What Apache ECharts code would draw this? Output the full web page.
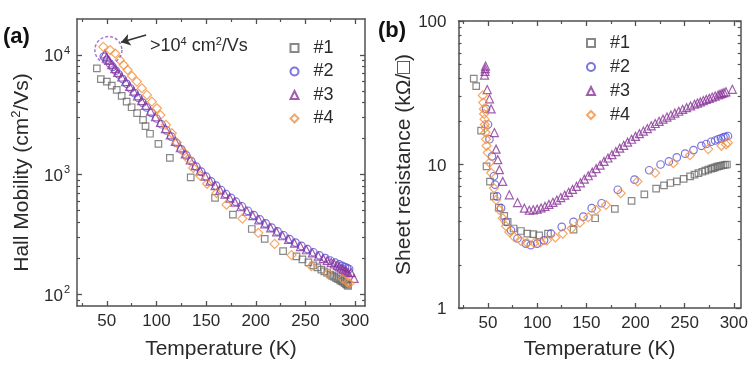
<!DOCTYPE html>
<html><head><meta charset="utf-8">
<script src="https://cdn.jsdelivr.net/npm/echarts@6/dist/echarts.min.js"></script>
<style>html,body{margin:0;padding:0;background:#fff}#c{width:751px;height:372px}</style>
</head><body><div id="c"></div>
<script>
// ---------- Panel (a): Hall mobility (cm^2/Vs) vs temperature (K) ----------
const mobT1 = [40,44,50,55,60,65,70,75,80.5,86.5,89,93.5,102,113.5,134.5,159,177,196,209,227.5,241,247,253,258,262,266,269,272,275,277,279,281,283,285,286.5,288,289.5,291,292,293];
const mob1  = [7740,6280,6000,5550,5110,4550,4080,3660,3270,2870,2550,2200,1810,1380,950,640,464,352,291,230,208,196,185,175,168,161,156,151,146,143,140,137,134,131,129,127,124,122,120,118];
const mobT2 = [47,50,53,56,59,62,66,70,74,78,82,86,90,95,100,105,110,115,120,125,130,135,140,145,150,155,160,165,170,175,180,186,192,198,204,210,216,222,228,234,240,246,252,258,264,270,275,280,284,287,290,292,294];
const mob2  = [9700,9100,8500,7950,7400,6900,6300,5750,5250,4800,4380,4000,3650,3280,2950,2640,2350,2080,1840,1630,1450,1300,1170,1060,965,880,810,745,690,640,595,545,500,460,424,392,362,336,312,290,271,254,239,225,212,201,192,184,178,173,169,166,163];
const mobT3 = [48,50,52,55,58,61,65,69,73,77,81,85,89,94,99,104,109,114,119,124,129,134,139,144,149,154,159,164,169,174,179,185,191,197,203,209,215,221,227,233,239,245,251,257,263,268,272,276,279,282,284,286,288,290,291.5,293,296,299];
const mob3  = [10200,9600,9000,8300,7700,7150,6550,6000,5480,5000,4560,4160,3800,3400,3050,2730,2430,2150,1900,1680,1490,1330,1190,1075,975,885,810,745,688,636,590,540,495,455,420,388,359,333,309,288,268,251,236,222,209,199,192,185,180,174,170,166,162,158,155,152,152,136];
const mobT4 = [46.5,53.5,58.5,63,67,71,75.3,80.3,85.3,90.4,95.4,100.5,104,109.5,115.5,120.5,127,132,137,144,151,160.5,170.5,186.5,202.5,219,236,256,272.5,287.5,292.5,294.5];
const mob4  = [11700,11000,10300,9100,8250,7500,6680,6000,5280,4640,4080,3590,3150,2610,2220,1860,1560,1350,1140,980,840,703,562,430,327,264,213,172,150,135,126,124];

// ---------- Panel (b): Sheet resistance (kOhm/sq) vs temperature (K) ----------
const resT1 = [35.5,38,43,48.5,52,56,61,66.5,70,76,83.5,90,96,102,111,137,159,179,196,209,221,229,235.5,242,249,255.5,260,264,268,271,274,277,279,281,283,285,287,289,291,293];
const res1  = [39.7,35.2,17.2,9.7,7.6,6.0,5.0,4.38,3.98,3.58,3.44,3.3,3.27,3.21,3.30,3.52,4.22,4.9,5.57,6.2,6.78,7.15,7.43,7.62,7.93,8.27,8.5,8.7,8.9,9.05,9.2,9.35,9.45,9.55,9.65,9.72,9.8,9.88,9.95,10.0];
const resT2 = [48,50,51.5,54,56,57.2,59.2,63.3,68.3,73.4,80,88.5,93.5,100,107,114,125,137,147,155.5,165.5,182,199,214,225.5,234,242,250.5,259,267,272,277,281,284,287,289.5,291.5,294];
const res2  = [24.4,19,15,11.4,8.28,7.23,5.99,4.96,3.98,3.48,3.05,2.81,2.74,2.81,2.96,3.3,3.68,3.98,4.33,4.96,5.37,6.67,7.84,9.12,10,10.5,11.2,11.9,12.6,13.5,13.9,14.4,14.7,15.0,15.2,15.45,15.6,15.8];
const resT3 = [46.5,47,47.2,47.5,49.2,51.5,53.2,56.5,58.2,60,61.6,65,71.7,80,87,92,96,100,104,108,112,116,120,124,128,132,136,140,144,148,152,156,160,164,168,172,176,180,184,188,192,196,200,204,208,212,216,220,224,228,232,236,240,244,248,252,256,260,263,266,269,272,275,278,281,284,286,288,290,292,298.5];
const res3  = [42,44.5,46.5,48.5,33.3,28.7,24.4,16.7,12.8,10.8,9.2,7.62,6.15,5.43,4.96,4.80,4.83,4.88,4.98,5.1,5.27,5.45,5.65,5.88,6.12,6.4,6.7,7.05,7.45,7.9,8.35,8.85,9.35,9.9,10.5,11.1,11.7,12.3,13.0,13.6,14.3,15.0,15.7,16.4,17.1,17.8,18.6,19.3,20.0,20.7,21.4,22.1,22.8,23.5,24.2,24.9,25.6,26.3,26.8,27.3,27.9,28.4,28.9,29.5,30.0,30.5,30.9,31.3,31.7,32.1,33.4];
const resT4 = [44.7,45.2,45.8,46,46.5,46.8,47.2,47.5,48,48.6,49.8,51.5,53.2,56,58.3,61.6,65,68.4,71.7,76.8,83.5,90,97,103.5,110,118.5,126,135,143.5,152,160,170,185,202,220,238.6,255.4,274,287.4,292,294];
const res4  = [30.3,27,24.4,22.5,20.7,19,18,16.7,15,13.5,12.1,10.3,8.75,6.85,5.67,4.82,4.22,3.72,3.39,3.12,2.93,2.84,2.84,2.88,2.96,3.1,3.3,3.58,3.93,4.29,4.82,5.22,6.31,7.62,8.75,10.2,11.6,12.8,13.5,13.8,14.2];

// ---------- categories / ticks ----------
const sampleNames = ['#1','#2','#3','#4'];
const tempMajor = [50,100,150,200,250,300];
const tempMinor = [25,75,125,175,225,275];
const mobMajor = [100,1000,10000];
const mobTickLabels = ['10{s|2}','10{s|3}','10{s|4}'];
const mobMinor = [90,200,300,400,500,600,700,800,900,2000,3000,4000,5000,6000,7000,8000,9000];
const resMajor = [1,10,100];
const resTickLabels = ['1','10','100'];
const resMinor = [2,3,4,5,6,7,8,9,20,30,40,50,60,70,80,90];

// annotation in panel (a)
const circlePoint = [51.6, 11000];
const arrowFrom = [89.6, 14700];
const arrowTo = [64.4, 12800];

const FONT = '"Liberation Sans", Arial, Helvetica, sans-serif';
const AXC = '#505050';
const TXT = '#2a2a2a';
const colors = ['#6a6a6a','#5a52d6','#8a3398','#f5913c'];
const symbols = ['rect','circle','triangle','diamond'];
const symSizes = [6.5,7.5,8,9];

const zip = (t, v) => t.map((x, i) => [x, v[i]]);

const gridCfg = [
  {left: 77, top: 19, width: 288, height: 287},
  {left: 458.5, top: 21, width: 287, height: 287}
];

function lineS(){ return {color: AXC, width: 1.5}; }
function makeX(g, min, max, nameGap){
  const c = {gridIndex: g, type: 'value', min, max, splitLine: {show: false}, silent: true};
  return [
    Object.assign({}, c, {position: 'bottom',
      axisLine: {show: true, onZero: false, lineStyle: lineS()},
      axisTick: {show: true, inside: true, length: 5, customValues: tempMajor, lineStyle: {color: AXC, width: 1.3}},
      axisLabel: {show: true, customValues: tempMajor, margin: 7, fontSize: 17, color: TXT, fontFamily: FONT},
      name: 'Temperature (K)', nameLocation: 'middle', nameGap,
      nameTextStyle: {fontSize: 21, color: TXT, fontFamily: FONT}}),
    Object.assign({}, c, {position: 'bottom', axisLine: {show: false, onZero: false},
      axisTick: {show: true, inside: true, length: 3, customValues: tempMinor, lineStyle: {color: AXC, width: 1.2}},
      axisLabel: {show: false}}),
    Object.assign({}, c, {position: 'top', axisLine: {show: true, onZero: false, lineStyle: lineS()},
      axisTick: {show: true, inside: true, length: 5, customValues: tempMajor, lineStyle: {color: AXC, width: 1.3}},
      axisLabel: {show: false}}),
    Object.assign({}, c, {position: 'top', axisLine: {show: false, onZero: false},
      axisTick: {show: true, inside: true, length: 3, customValues: tempMinor, lineStyle: {color: AXC, width: 1.2}},
      axisLabel: {show: false}})
  ];
}
function makeY(g, min, max, major, minor, labels, labelMargin, name, nameGap, namePad){
  const c = {gridIndex: g, type: 'log', logBase: 10, min, max, splitLine: {show: false}, silent: true};
  return [
    Object.assign({}, c, {position: 'left',
      axisLine: {show: true, onZero: false, lineStyle: lineS()},
      axisTick: {show: true, inside: true, length: 5, customValues: major, lineStyle: {color: AXC, width: 1.3}},
      axisLabel: {show: true, customValues: major, margin: labelMargin, fontSize: 17, color: TXT, fontFamily: FONT,
        formatter: v => { const i = major.findIndex(m => Math.abs(m - v) / m < 1e-6); return i >= 0 ? '{b|' + labels[i].replace(/\{s\|(\d)\}/, '}{s|$1}') + (labels[i].indexOf('{s|') >= 0 ? '' : '}') : ''; },
        rich: {b: {fontSize: 17, color: TXT, fontFamily: FONT, verticalAlign: 'bottom', lineHeight: 20},
               s: {fontSize: 11, color: TXT, fontFamily: FONT, verticalAlign: 'top', lineHeight: 20, padding: [0, 0, 0, 1]}}},
      name, nameLocation: 'middle', nameGap,
      nameTextStyle: {fontSize: 21, color: TXT, fontFamily: FONT, padding: namePad,
        rich: {s: {fontSize: 13, color: TXT, fontFamily: FONT, verticalAlign: 'top', lineHeight: 24}}}}),
    Object.assign({}, c, {position: 'left', axisLine: {show: false, onZero: false},
      axisTick: {show: true, inside: true, length: 3, customValues: minor, lineStyle: {color: AXC, width: 1.2}},
      axisLabel: {show: false}}),
    Object.assign({}, c, {position: 'right', axisLine: {show: true, onZero: false, lineStyle: lineS()},
      axisTick: {show: true, inside: true, length: 5, customValues: major, lineStyle: {color: AXC, width: 1.3}},
      axisLabel: {show: false}}),
    Object.assign({}, c, {position: 'right', axisLine: {show: false, onZero: false},
      axisTick: {show: true, inside: true, length: 3, customValues: minor, lineStyle: {color: AXC, width: 1.2}},
      axisLabel: {show: false}})
  ];
}

const mobSets = [[mobT1, mob1], [mobT2, mob2], [mobT3, mob3], [mobT4, mob4]];
const resSets = [[resT1, res1], [resT2, res2], [resT3, res3], [resT4, res4]];

const series = [];
mobSets.forEach((s, i) => series.push({
  type: 'scatter', name: sampleNames[i], xAxisIndex: 0, yAxisIndex: 0,
  data: zip(s[0], s[1]), symbol: symbols[i], symbolSize: symSizes[i],
  itemStyle: {color: 'rgba(0,0,0,0)', borderColor: colors[i], borderWidth: 1.2}
}));
resSets.forEach((s, i) => series.push({
  type: 'scatter', name: sampleNames[i], xAxisIndex: 4, yAxisIndex: 4,
  data: zip(s[0], s[1]), symbol: symbols[i], symbolSize: symSizes[i],
  itemStyle: {color: 'rgba(0,0,0,0)', borderColor: colors[i], borderWidth: 1.2}
}));
// dashed highlight circle + arrow
series.push({
  type: 'scatter', name: 'highlight', xAxisIndex: 0, yAxisIndex: 0, z: 5,
  data: [circlePoint], symbol: 'circle', symbolSize: 27,
  itemStyle: {color: 'rgba(0,0,0,0)', borderColor: '#8c55c4', borderWidth: 1.5, borderType: [3, 2]},
  markLine: {silent: true, symbol: ['none', 'arrow'], symbolSize: 9, label: {show: false},
    lineStyle: {color: '#333', width: 1.6, type: 'solid'},
    data: [[{coord: arrowFrom}, {coord: arrowTo}]]}
});

const legendBase = {
  data: sampleNames, orient: 'vertical', itemWidth: 8, itemHeight: 8, selectedMode: false,
  textStyle: {fontSize: 18, color: TXT, fontFamily: FONT, lineHeight: 20, padding: [0, 0, 0, 10]}
};

const chart = echarts.init(document.getElementById('c'), null, {renderer: 'canvas'});
chart.setOption({
  animation: false,
  backgroundColor: '#fff',
  grid: gridCfg,
  xAxis: [].concat(makeX(0, 20, 310, 33), makeX(1, 20, 307, 31)),
  yAxis: [].concat(
    makeY(0, 80, 20000, mobMajor, mobMinor, mobTickLabels, 7, 'Hall Mobility (cm{s|2}/Vs)', 43, [0, 20, 0, 0]),
    makeY(1, 1, 100, resMajor, resMinor, resTickLabels, 12, 'Sheet resistance (kΩ/□)', 35, [0, 0, 0, 0])),
  legend: [
    Object.assign({}, legendBase, {left: 284.5, top: 33, itemGap: 3.5}),
    Object.assign({}, legendBase, {left: 581, top: 28, itemGap: 4})
  ],
  graphic: [
    {type: 'text', left: 3, top: 26, style: {text: '(a)', fontSize: 22, fontWeight: 'bold', fill: '#111', fontFamily: FONT}},
    {type: 'text', left: 378, top: 20, style: {text: '(b)', fontSize: 22, fontWeight: 'bold', fill: '#111', fontFamily: FONT}},
    {type: 'text', left: 150, top: 36, style: {text: '>10{s|4} cm{s|2}/Vs', fontSize: 18, fill: TXT, fontFamily: FONT,
      rich: {s: {fontSize: 11, fill: TXT, fontFamily: FONT, verticalAlign: 'top', lineHeight: 20}}}}
  ],
  series
});
</script></body></html>
